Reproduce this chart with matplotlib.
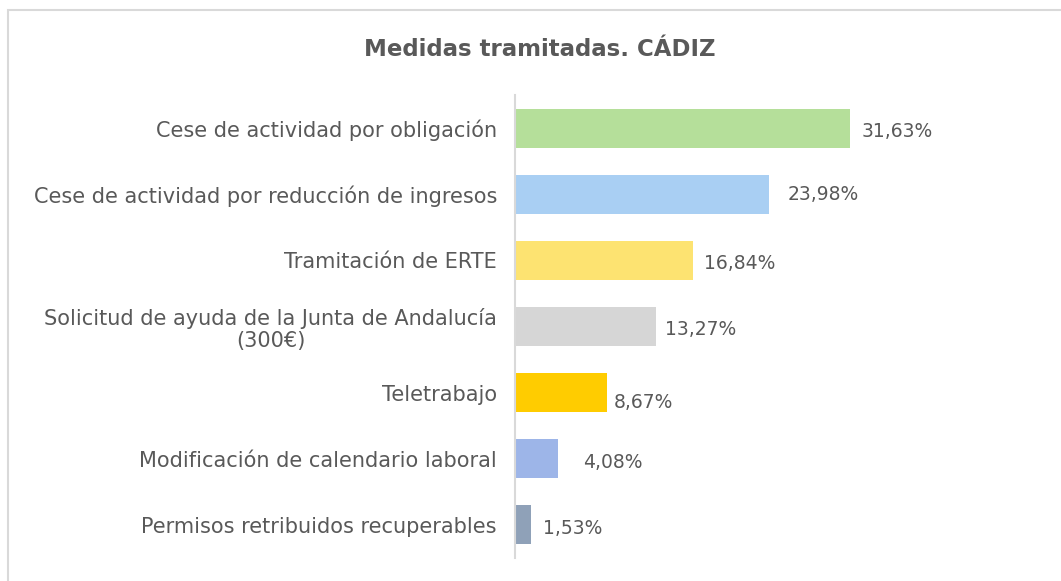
import matplotlib
matplotlib.use("Agg")
import matplotlib.pyplot as plt
from matplotlib.patches import Rectangle

categories = [
    "Cese de actividad por obligación",
    "Cese de actividad por reducción de ingresos",
    "Tramitación de ERTE",
    "Solicitud de ayuda de la Junta de Andalucía\n(300€)",
    "Teletrabajo",
    "Modificación de calendario laboral",
    "Permisos retribuidos recuperables",
]
values = [31.63, 23.98, 16.84, 13.27, 8.67, 4.08, 1.53]
value_labels = ["31,63%", "23,98%", "16,84%", "13,27%", "8,67%", "4,08%", "1,53%"]
colors = ["#b5df9a", "#a9cff3", "#fde371", "#d6d6d6", "#ffcc00", "#9db5e8", "#8fa1b8"]
# label offsets (in data units x, and category units y) to mimic manual placement
label_dx = [1.1, 1.8, 1.0, 0.85, 0.65, 2.3, 1.1]
label_dy = [0.05, 0.0, 0.05, 0.05, 0.15, 0.05, 0.05]

W, H = 1061, 581
fig = plt.figure(figsize=(W / 100, H / 100), dpi=100)
plt.rcParams['font.family'] = ['DejaVu Sans']
text_color = "#595959"

# outer border
fig.patches.append(Rectangle((8 / W, -0.05), 1.2, 1 - 10 / H + 0.05,
                             transform=fig.transFigure, fill=False,
                             edgecolor="#d9d9d9", linewidth=1.5))

ax = fig.add_axes([515 / W, 1 - 558 / H, 485 / W, (558 - 95) / H])
ypos = list(range(len(categories)))
ax.barh(ypos, values, height=0.59, color=colors)
ax.set_ylim(len(categories) - 0.5, -0.5)
ax.set_xlim(0, 485 / 10.59)

for y, v, lab, dx, dy in zip(ypos, values, value_labels, label_dx, label_dy):
    ax.text(v + dx, y + dy, lab, va="center", ha="left", fontsize=13.5, color=text_color)

ax.set_yticks(ypos)
ax.set_yticklabels(categories, fontsize=15, color=text_color,
                   multialignment="center", linespacing=1.1)
ax.tick_params(axis="y", length=0, pad=13)
ax.set_xticks([])
for s in ["top", "right", "bottom"]:
    ax.spines[s].set_visible(False)
ax.spines["left"].set_color("#d9d9d9")
ax.spines["left"].set_linewidth(1.5)

fig.text(540 / W, 1 - 49 / H, "Medidas tramitadas. CÁDIZ", ha="center", va="center",
         fontsize=16.5, fontweight="bold", color=text_color)

fig.savefig("out.png", dpi=100)
